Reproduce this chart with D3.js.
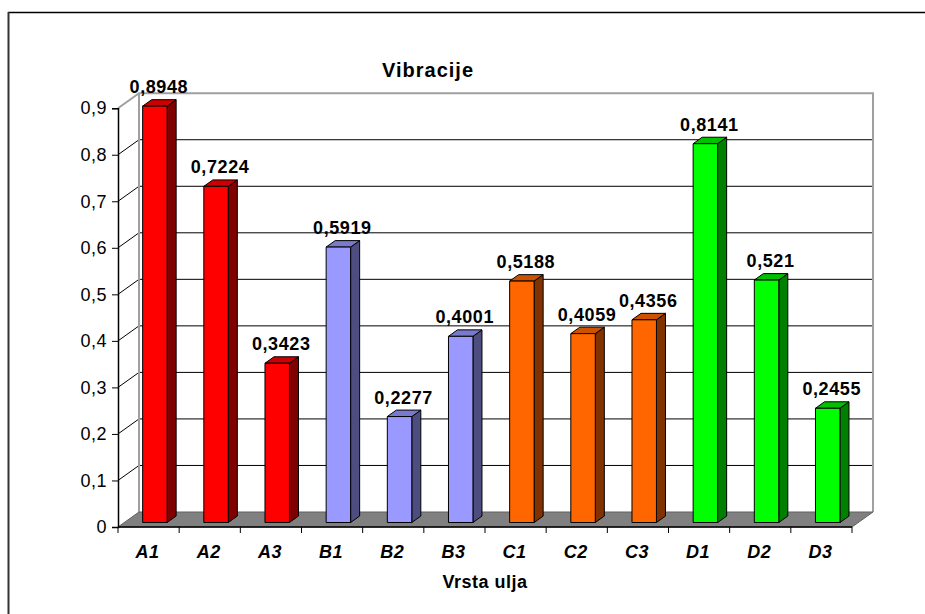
<!DOCTYPE html>
<html>
<head>
<meta charset="utf-8">
<script src="https://cdn.jsdelivr.net/npm/d3@7"></script>
<style>
  html, body { margin: 0; padding: 0; background: #fff; overflow: hidden; width: 925px; height: 614px; }
  svg { display: block; }
  text { font-family: Arial, "Liberation Sans", sans-serif; fill: #000; }
</style>
</head>
<body>
<svg id="chart" width="925" height="614" viewBox="0 0 925 614"></svg>
<script>
// Vibration per oil type
const categories = ["A1", "A2", "A3", "B1", "B2", "B3", "C1", "C2", "C3", "D1", "D2", "D3"];
const values = [0.8948, 0.7224, 0.3423, 0.5919, 0.2277, 0.4001, 0.5188, 0.4059, 0.4356, 0.8141, 0.521, 0.2455];
const groups = ["A", "A", "A", "B", "B", "B", "C", "C", "C", "D", "D", "D"];
const yTicks = [0, 0.1, 0.2, 0.3, 0.4, 0.5, 0.6, 0.7, 0.8, 0.9];
const title = "Vibracije";
const xTitle = "Vrsta ulja";

// face colours per group: front, side, top
const palette = {
  A: { front: "#FF0000", side: "#800000", top: "#CC0000" },
  B: { front: "#9999FF", side: "#4D4D80", top: "#7A7ACC" },
  C: { front: "#FF6600", side: "#803300", top: "#CC5200" },
  D: { front: "#00FF00", side: "#008000", top: "#00C000" }
};

const svg = d3.select("#chart");

// page background
svg.append("rect").attr("x", 0).attr("y", 0).attr("width", 925).attr("height", 614).attr("fill", "#fff");

// outer chart frame (top and left edges fall inside the view)
svg.append("line")
  .attr("x1", 8).attr("x2", 925).attr("y1", 12.5).attr("y2", 12.5)
  .attr("stroke", "#000").attr("stroke-width", 1.5);
svg.append("line")
  .attr("x1", 8.5).attr("x2", 8.5).attr("y1", 12).attr("y2", 614)
  .attr("stroke", "#333").attr("stroke-width", 2);

// plot geometry: front plane and depth offset of the back wall
const x0 = 118, x1 = 852, yBase = 527, yTopV = 108.2;
const depthX = 21, depthY = -15;

const x = d3.scaleBand().domain(categories).range([x0, x1])
  .paddingInner(0.6).paddingOuter(0.3);
const y = d3.scaleLinear().domain([0, 0.9]).range([yBase, yTopV]);

// back wall
const wall = svg.append("g");
wall.append("rect")
  .attr("x", x0 + depthX).attr("y", y(0.9) + depthY)
  .attr("width", x1 - x0).attr("height", y(0) - y(0.9))
  .attr("fill", "#fff");

// gridlines on back wall and side wall
yTicks.filter(t => t > 0 && t < 0.9).forEach(t => {
  wall.append("line")
    .attr("x1", x0 + depthX).attr("x2", x1 + depthX)
    .attr("y1", y(t) + depthY).attr("y2", y(t) + depthY)
    .attr("stroke", "#000").attr("stroke-width", 1);
  wall.append("line")
    .attr("x1", x0).attr("x2", x0 + depthX)
    .attr("y1", y(t)).attr("y2", y(t) + depthY)
    .attr("stroke", "#000").attr("stroke-width", 1);
});

// wall outline
const wallOutline = d3.path();
wallOutline.moveTo(x0, y(0.9));
wallOutline.lineTo(x0 + depthX, y(0.9) + depthY);
wallOutline.lineTo(x1 + depthX, y(0.9) + depthY);
wallOutline.lineTo(x1 + depthX, y(0) + depthY);
wallOutline.moveTo(x0 + depthX, y(0.9) + depthY);
wallOutline.lineTo(x0 + depthX, y(0) + depthY);
wall.append("path").attr("d", wallOutline.toString())
  .attr("fill", "none").attr("stroke", "#A0A0A0").attr("stroke-width", 2);

// floor
const floor = d3.path();
floor.moveTo(x0, y(0));
floor.lineTo(x1, y(0));
floor.lineTo(x1 + depthX, y(0) + depthY);
floor.lineTo(x0 + depthX, y(0) + depthY);
floor.closePath();
svg.append("path").attr("d", floor.toString())
  .attr("fill", "#808080").attr("stroke", "#606060").attr("stroke-width", 1);

// bars: front face sits 30% into the depth, 43% deep
const f0 = 0.3, fd = 0.43;
const bdx = depthX * fd, bdy = depthY * fd;
const bars = svg.append("g");
categories.forEach((c, i) => {
  const v = values[i];
  const col = palette[groups[i]];
  const bx = x(c) + depthX * f0;
  const bw = x.bandwidth();
  const by0 = y(0) + depthY * f0;
  const byT = y(v) + depthY * f0;
  const g = bars.append("g").attr("stroke", "#000").attr("stroke-width", 1).attr("stroke-linejoin", "round");
  // side face
  g.append("path")
    .attr("d", `M${bx + bw},${byT}L${bx + bw + bdx},${byT + bdy}L${bx + bw + bdx},${by0 + bdy}L${bx + bw},${by0}Z`)
    .attr("fill", col.side);
  // top face
  g.append("path")
    .attr("d", `M${bx},${byT}L${bx + bdx},${byT + bdy}L${bx + bw + bdx},${byT + bdy}L${bx + bw},${byT}Z`)
    .attr("fill", col.top);
  // front face
  g.append("rect")
    .attr("x", bx).attr("y", byT)
    .attr("width", bw).attr("height", by0 - byT)
    .attr("fill", col.front);
});

// value labels
const fmt = v => String(v).replace(".", ",");
svg.append("g").selectAll("text").data(categories).join("text")
  .attr("x", (c) => x(c) + depthX * f0 + x.bandwidth() / 2 + 4)
  .attr("y", (c, i) => y(values[i]) + depthY * f0 - 13)
  .attr("text-anchor", "middle")
  .style("font-size", "18px").style("font-weight", "bold").style("letter-spacing", "0.6px")
  .text((c, i) => fmt(values[i]));

// value axis (front-left edge)
const yAxis = d3.axisLeft(y).tickValues(yTicks).tickSize(6).tickPadding(5)
  .tickFormat(d => d === 0 ? "0" : d3.format(".1f")(d).replace(".", ","));
const yg = svg.append("g").attr("transform", `translate(${x0},0)`).call(yAxis);
yg.select(".domain").attr("stroke", "#000").attr("stroke-width", 1.5);
yg.selectAll(".tick line").attr("stroke", "#000");
yg.selectAll(".tick text")
  .style("font-size", "18px").style("font-family", "Arial, 'Liberation Sans', sans-serif")
  .style("letter-spacing", "0.5px").attr("fill", "#000");

// category axis along the front floor edge
const catBoundaries = categories.map(c => x(c) - (x.step() - x.bandwidth()) / 2).concat([x1]);
const xg = svg.append("g");
xg.append("line").attr("x1", x0).attr("x2", x1).attr("y1", yBase).attr("y2", yBase)
  .attr("stroke", "#000").attr("stroke-width", 1.5);
xg.selectAll("line.tick").data(catBoundaries).join("line").attr("class", "tick")
  .attr("x1", d => d).attr("x2", d => d).attr("y1", yBase).attr("y2", yBase + 6)
  .attr("stroke", "#000").attr("stroke-width", 1);
xg.selectAll("text").data(categories).join("text")
  .attr("x", c => x(c) + x.bandwidth() / 2 - 1)
  .attr("y", 558)
  .attr("text-anchor", "middle")
  .style("font-size", "18px").style("font-weight", "bold").style("font-style", "italic")
  .style("letter-spacing", "0.5px")
  .text(c => c);

// titles
svg.append("text").attr("x", 428).attr("y", 77).attr("text-anchor", "middle")
  .style("font-size", "20px").style("font-weight", "bold").style("letter-spacing", "1px")
  .text(title);
svg.append("text").attr("x", (x0 + x1) / 2).attr("y", 588).attr("text-anchor", "middle")
  .style("font-size", "18px").style("font-weight", "bold").style("letter-spacing", "0.5px")
  .text(xTitle);
</script>
</body>
</html>
